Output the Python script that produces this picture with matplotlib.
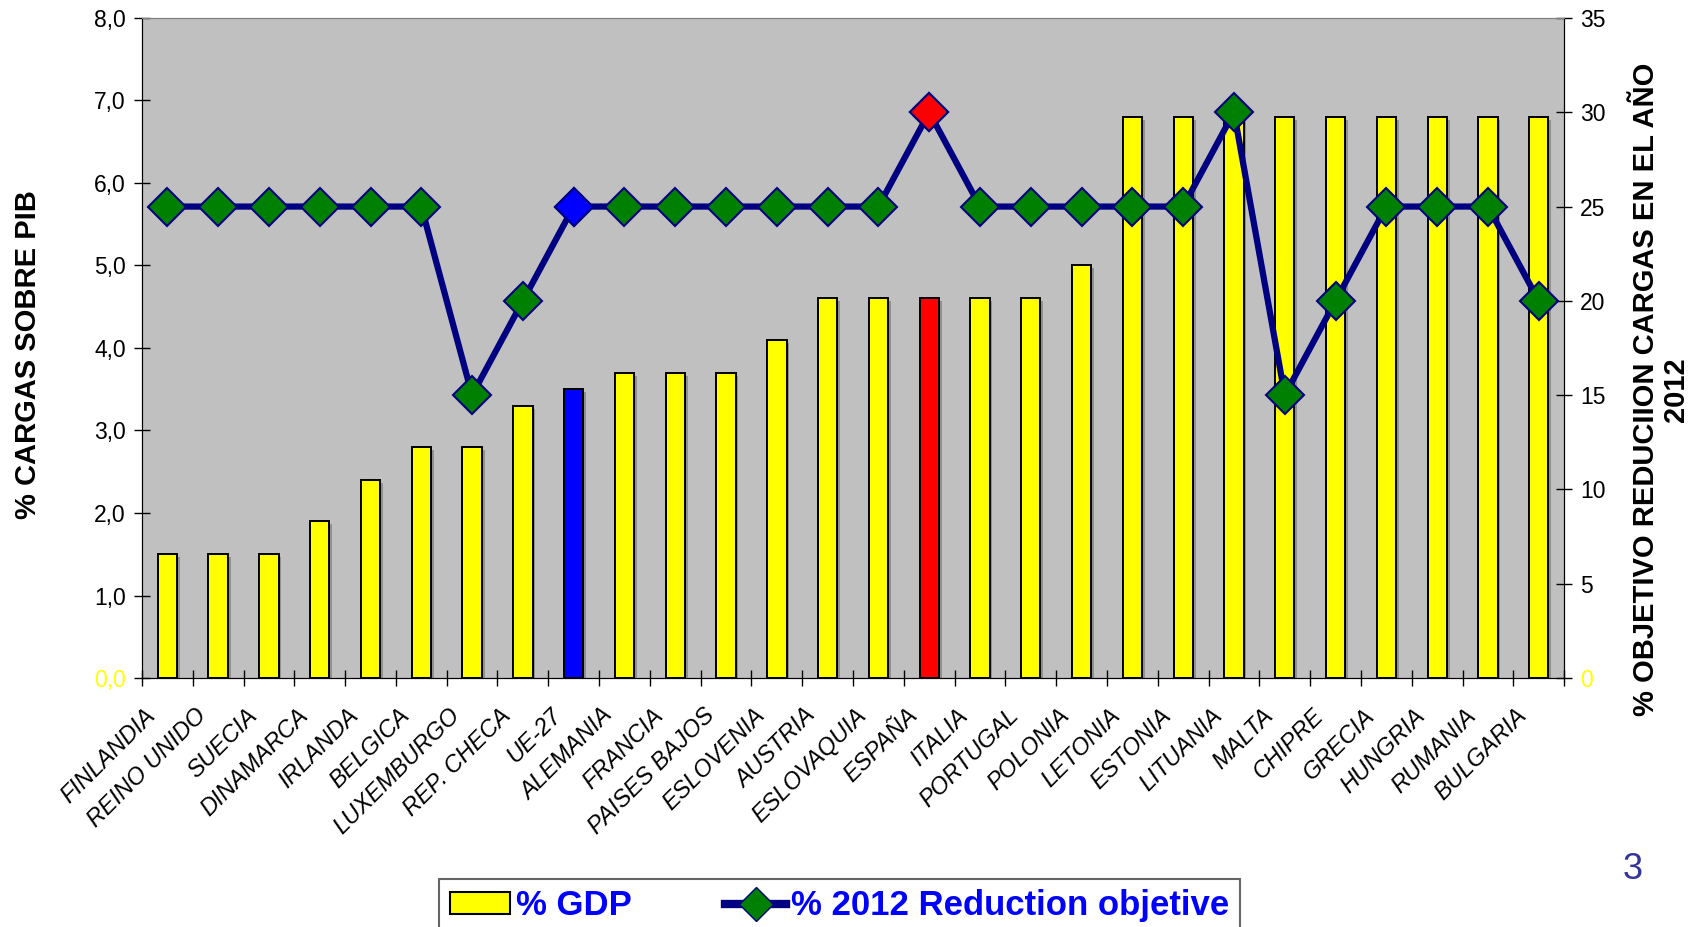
import numpy as np
import matplotlib
matplotlib.use("Agg")
import matplotlib.pyplot as plt
import matplotlib.transforms as mtransforms
import matplotlib.patheffects as pe
from matplotlib import font_manager
from matplotlib.patches import Patch
from matplotlib.lines import Line2D

countries = ["FINLANDIA", "REINO UNIDO", "SUECIA", "DINAMARCA", "IRLANDA", "BELGICA",
             "LUXEMBURGO", "REP. CHECA", "UE-27", "ALEMANIA", "FRANCIA", "PAISES BAJOS",
             "ESLOVENIA", "AUSTRIA", "ESLOVAQUIA", "ESPAÑA", "ITALIA", "PORTUGAL",
             "POLONIA", "LETONIA", "ESTONIA", "LITUANIA", "MALTA", "CHIPRE", "GRECIA",
             "HUNGRIA", "RUMANIA", "BULGARIA"]
gdp = [1.5, 1.5, 1.5, 1.9, 2.4, 2.8, 2.8, 3.3, 3.5, 3.7, 3.7, 3.7, 4.1, 4.6,
       4.6, 4.6, 4.6, 4.6, 5.0, 6.8, 6.8, 6.8, 6.8, 6.8, 6.8, 6.8, 6.8, 6.8]
reduction = [25, 25, 25, 25, 25, 25, 15, 20, 25, 25, 25, 25, 25, 25,
             25, 30, 25, 25, 25, 25, 25, 30, 15, 20, 25, 25, 25, 20]
left_ticks = [0, 1, 2, 3, 4, 5, 6, 7, 8]
right_ticks = [0, 5, 10, 15, 20, 25, 30, 35]
highlight = {"UE-27": "#0000FF", "ESPAÑA": "#FF0000"}

# narrow bold font if there is one, else plain bold Liberation Sans a bit smaller
names = {f.name for f in font_manager.fontManager.ttflist}
if "Liberation Sans Narrow" in names:
    bold_font, bold_size, leg_size = "Liberation Sans Narrow", 25, 30
else:
    bold_font, bold_size, leg_size = "Liberation Sans", 21, 25
plt.rcParams["font.family"] = ["Liberation Sans", "DejaVu Sans"]

fig = plt.figure(figsize=(17.02, 9.27), dpi=100)
ax = fig.add_axes([0.0834, 0.2686, 0.9190 - 0.0834, 0.9806 - 0.2686])
ax.set_facecolor("#C0C0C0")

x = np.arange(len(countries))
bar_colors = [highlight.get(c, "#FFFF00") for c in countries]
bars = ax.bar(x, gdp, width=0.38, color=bar_colors, edgecolor="black", linewidth=1.4)
for b in bars:
    b.set_path_effects([pe.SimplePatchShadow(offset=(2, -2), shadow_rgbFace="#707070", alpha=0.6),
                        pe.Normal()])

ax.set_xlim(-0.5, len(countries) - 0.5)
ax.set_ylim(0, 8)
ax.set_xticks(np.arange(-0.5, len(countries), 1))
ax.set_xticklabels([])
ax.set_yticks(left_ticks)
ax.set_yticklabels([f"{v:.1f}".replace(".", ",") for v in left_ticks])
ax.tick_params(axis="y", direction="inout", length=11, width=1, labelsize=16.5, pad=6)
ax.tick_params(axis="x", direction="inout", length=11, width=1)
ax.get_yticklabels()[0].set_color("#FFFF00")
ax.spines["top"].set_color("#808080")

# category names sit a little left of the bar, like the original
offset = mtransforms.ScaledTranslation(-0.235, -0.26, fig.dpi_scale_trans)
trans = mtransforms.blended_transform_factory(ax.transData, ax.transAxes) + offset
for i, c in enumerate(countries):
    ax.text(i, 0, c, transform=trans, rotation=45, ha="right", va="top",
            rotation_mode="anchor", fontsize=17, style="italic")

ax2 = ax.twinx()
ax2.plot(x, reduction, color="#000080", lw=4.5, marker="D", markersize=19,
         markerfacecolor="#008000", markeredgecolor="#000080", markeredgewidth=1.5)
for i, c in enumerate(countries):
    if c in highlight:
        ax2.plot(i, reduction[i], marker="D", markersize=19, markerfacecolor=highlight[c],
                 markeredgecolor="#000080", markeredgewidth=1.5, linestyle="none")
ax2.set_ylim(0, 35)
ax2.set_yticks(right_ticks)
ax2.set_yticklabels([str(v) for v in right_ticks])
ax2.tick_params(axis="y", direction="inout", length=11, width=1, labelsize=16.5, pad=6)
ax2.get_yticklabels()[0].set_color("#FFFF00")
ax2.spines["top"].set_color("#808080")

fig.text(0.0167, 0.617, "% CARGAS SOBRE PIB", rotation=90, ha="center", va="center",
         fontsize=bold_size, fontweight="bold", family=[bold_font, "DejaVu Sans"])
fig.text(0.976, 0.58, "% OBJETIVO REDUCIION CARGAS EN EL AÑO\n2012", rotation=90,
         ha="center", va="center", multialignment="center", linespacing=1.1,
         fontsize=bold_size, fontweight="bold", family=[bold_font, "DejaVu Sans"])

fig.text(0.959, 0.0615, "3", color="#333399", fontsize=26, ha="center", va="center")

handles = [Patch(facecolor="#FFFF00", edgecolor="black", linewidth=1.5),
           Line2D([0], [0], color="#000080", lw=6, marker="D", markersize=17,
                  markerfacecolor="#008000", markeredgecolor="#000080")]
leg = fig.legend(handles, ["% GDP", "% 2012 Reduction objetive"], ncol=2,
                 loc="upper left", bbox_to_anchor=(0.258, 0.052), borderaxespad=0,
                 fancybox=False, handlelength=1.75, handleheight=0.6, handletextpad=0.15,
                 columnspacing=2.7, borderpad=0.3,
                 prop={"family": [bold_font, "DejaVu Sans"], "weight": "bold", "size": leg_size})
leg.get_frame().set_edgecolor("#404040")
leg.get_frame().set_linewidth(1.5)
for t in leg.get_texts():
    t.set_color("#0000FF")

fig.savefig("out.png", dpi=100)
